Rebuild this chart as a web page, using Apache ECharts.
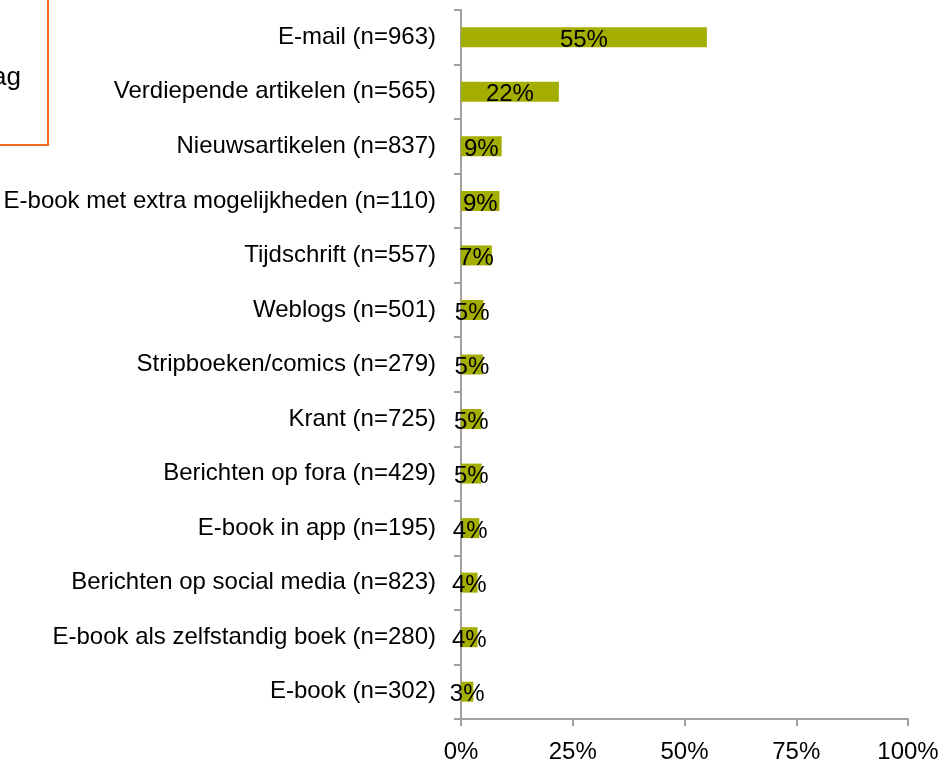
<!DOCTYPE html>
<html>
<head>
<meta charset="utf-8">
<script src="https://cdn.jsdelivr.net/npm/echarts@6.0.0/dist/echarts.min.js"></script>
<style>
  html, body { margin: 0; padding: 0; background: #fff; }
  #chart { width: 945px; height: 761px; }
</style>
</head>
<body>
<div id="chart"></div>
<script>
// categorieen, van boven naar beneden
const categories = [
  'E-mail (n=963)',
  'Verdiepende artikelen (n=565)',
  'Nieuwsartikelen (n=837)',
  'E-book met extra mogelijkheden (n=110)',
  'Tijdschrift (n=557)',
  'Weblogs (n=501)',
  'Stripboeken/comics (n=279)',
  'Krant (n=725)',
  'Berichten op fora (n=429)',
  'E-book in app (n=195)',
  'Berichten op social media (n=823)',
  'E-book als zelfstandig boek (n=280)',
  'E-book (n=302)'
]
const values = [55.0, 21.9, 9.1, 8.6, 6.9, 5.0, 4.9, 4.6, 4.6, 4.1, 3.7, 3.7, 2.75]
const xMin = 0
const xMax = 100
const xStep = 25

const chart = echarts.init(document.getElementById('chart'))

const axisGrey = '#a0a0a0'
const font = '"Liberation Sans", Arial, sans-serif'

const option = {
  animation: false,
  grid: {
    left: 461,
    right: 37,
    top: 10,
    bottom: 42,
    containLabel: false,
    outerBoundsMode: 'none'
  },
  xAxis: {
    type: 'value',
    min: xMin,
    max: xMax,
    interval: xStep,
    axisLine: { show: true, lineStyle: { color: axisGrey, width: 2 } },
    axisTick: { show: true, length: 7, lineStyle: { color: axisGrey, width: 2 } },
    splitLine: { show: false },
    axisLabel: {
      formatter: '{value}%',
      fontSize: 24,
      fontFamily: font,
      color: '#000',
      margin: 21
    }
  },
  yAxis: {
    type: 'category',
    inverse: true,
    data: categories,
    axisLine: { show: true, lineStyle: { color: axisGrey, width: 2 } },
    axisTick: { show: true, length: 7, lineStyle: { color: axisGrey, width: 2 } },
    axisLabel: {
      fontSize: 24,
      fontFamily: font,
      color: '#000',
      margin: 25,
      // tekst staat iets onder het midden van de band
      padding: [6, 0, 0, 0]
    }
  },
  series: [
    {
      type: 'bar',
      data: values,
      barWidth: 20,
      itemStyle: { color: '#a4ae00' },
      label: {
        show: true,
        position: 'inside',
        offset: [0, 3],
        overflow: 'none',
        fontSize: 24,
        fontFamily: font,
        color: '#000',
        textBorderWidth: 0,
        textBorderColor: 'transparent',
        formatter: (p) => Math.round(p.value) + '%'
      }
    }
  ],
  // afgesneden kader linksboven
  graphic: [
    {
      type: 'rect',
      shape: { x: -20, y: -20, width: 68, height: 165 },
      style: { fill: 'none', stroke: '#f26a21', lineWidth: 2 }
    },
    {
      type: 'text',
      x: 21,
      y: 78,
      style: {
        text: 'vraag',
        fontSize: 26,
        fontFamily: font,
        fill: '#000',
        align: 'right',
        verticalAlign: 'middle'
      }
    }
  ]
}

chart.setOption(option)
</script>
</body>
</html>
